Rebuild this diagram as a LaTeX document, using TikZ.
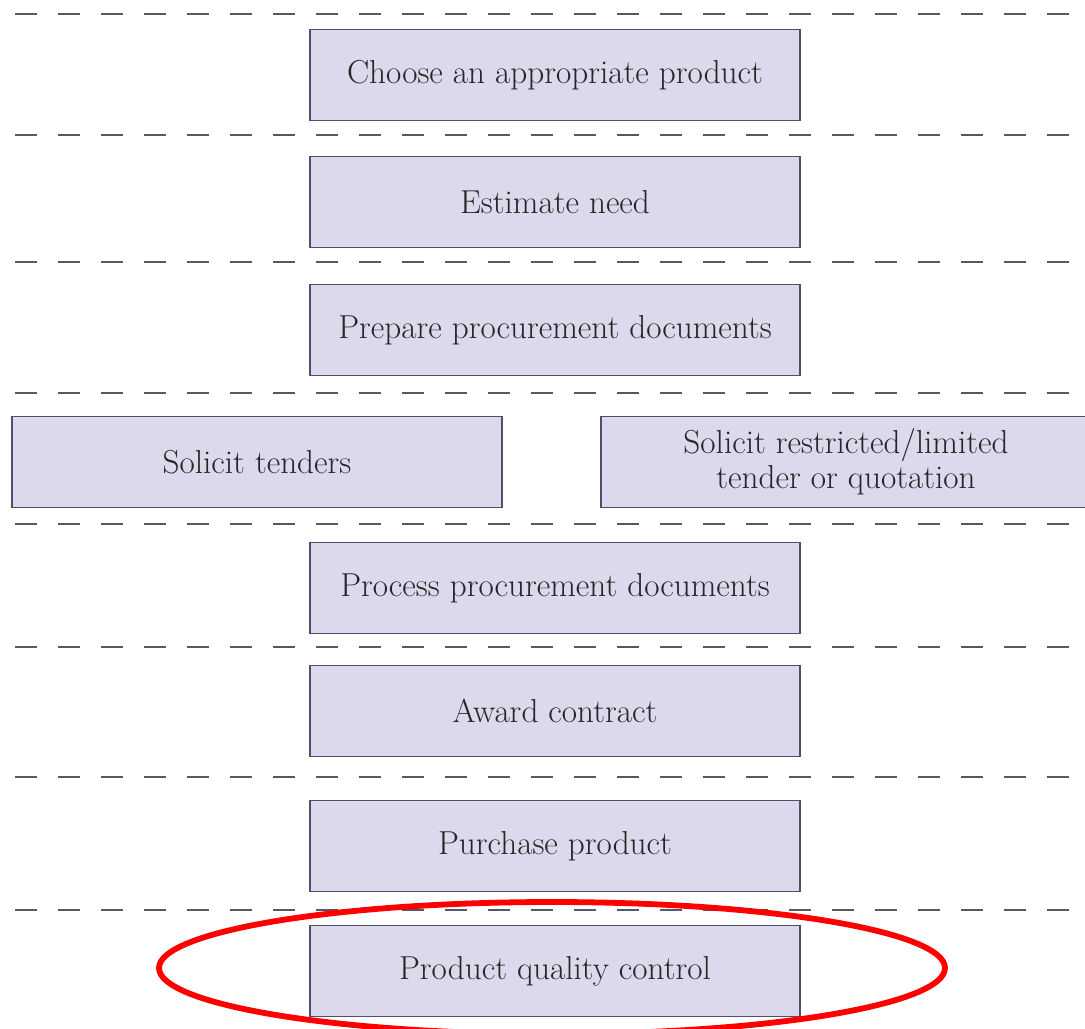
\documentclass[tikz,border=0pt]{standalone}
\usepackage{tikz}
\usetikzlibrary{positioning}

\definecolor{boxfill}{RGB}{219,217,235}
\definecolor{boxline}{RGB}{78,78,112}
\definecolor{rule}{RGB}{88,88,104}

\begin{document}
\begin{tikzpicture}[x=0.02cm, y=-0.02cm,
    stage/.style={draw=boxline, fill=boxfill, line width=0.7pt,
        minimum width=9.8cm, minimum height=1.82cm, inner sep=0pt,
        align=center, font=\fontsize{18.9}{20}\selectfont, text=black!85},
    sep/.style={draw=rule, line width=0.85pt, dash pattern=on 0.44cm off 0.42cm}]

    \useasboundingbox (0,0) rectangle (1085,1028);

    % Separators between the stages

    \foreach \y in {14,135,262,393,524,647,777,910}
        \draw[sep] (15,\y) -- (1085,\y);

    % Stages

    \node[stage] (choose)   at (555,75)  {Choose an appropriate product};
    \node[stage] (estimate) at (555,202) {Estimate need};
    \node[stage] (prepare)  at (555,330) {Prepare procurement documents};
    \node[stage] (tenders)  at (257,462) {Solicit tenders};
    \node[stage] (restrict) at (846,462) {Solicit restricted/limited\\tender or quotation};
    \node[stage] (process)  at (555,588) {Process procurement documents};
    \node[stage] (award)    at (555,711) {Award contract};
    \node[stage] (purchase) at (555,846) {Purchase product};
    \node[stage] (quality)  at (555,971) {Product quality control};

    % Highlight on the last stage

    \draw[red, line width=3.3pt] (552,968) ellipse [x radius=393, y radius=66];

\end{tikzpicture}
\end{document}
